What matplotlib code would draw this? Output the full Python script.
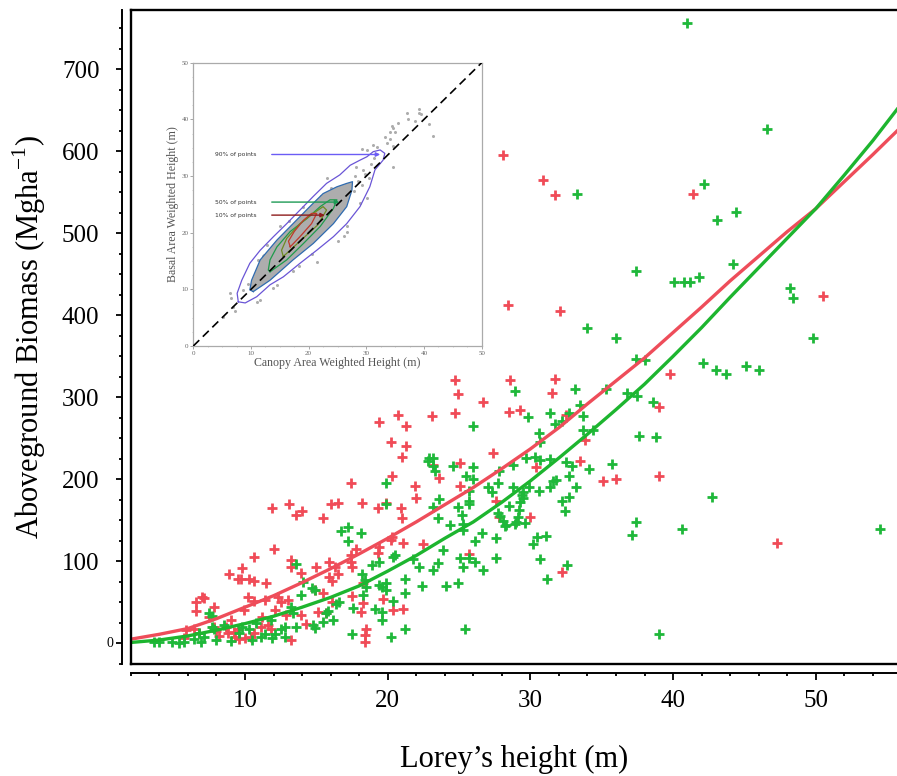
import matplotlib
matplotlib.use("Agg")
import matplotlib.pyplot as plt
from matplotlib.ticker import MultipleLocator, FixedLocator

plt.rcParams['font.family'] = ['Liberation Serif', 'DejaVu Serif']
plt.rcParams['mathtext.fontset'] = 'custom'
plt.rcParams['mathtext.rm'] = 'Liberation Serif'

# ---------------- data ----------------
red_x = [28.1, 30.9, 31.7, 41.4, 28.4, 32.1, 39.8, 39.0, 39.0, 47.3, 50.5, 24.7, 24.9, 24.7, 23.1,
         21.3, 21.3, 21.0, 26.7, 28.6, 31.7, 31.5, 28.5, 29.3, 32.5, 27.4, 25.1, 23.2, 23.6, 21.9,
         22.0, 25.1, 20.9, 21.0, 21.1, 22.5, 27.6, 27.8, 30.0, 30.4, 33.8, 33.5, 35.1, 36.0, 25.7,
         32.2, 21.1, 19.4, 20.7, 20.2, 20.3, 17.4, 11.9, 13.1, 13.6, 14.0, 15.5, 16.0, 16.5, 18.2,
         19.3, 19.9, 12.0, 10.6, 9.8, 8.9, 9.5, 9.7, 10.3, 10.6, 11.5, 13.2, 13.2, 13.9, 15.0,
         15.9, 16.3, 17.4, 17.4, 17.5, 17.8, 15.9, 16.1, 16.5, 15.5, 14.9, 18.3, 19.3, 19.4, 20.3,
         20.2, 19.7, 20.4, 18.3, 18.5, 18.4, 18.4, 18.1, 17.5, 16.1, 15.7, 15.1, 14.3, 13.9, 12.9,
         13.2, 12.5, 12.1, 12.3, 13.0, 11.4, 10.6, 10.2, 9.9, 11.2, 11.6, 10.4, 10.6, 9.0, 8.7,
         9.2, 9.5, 8.8, 9.3, 9.6, 10.0, 8.2, 8.0, 7.8, 7.5, 7.8, 7.1, 7.0, 6.6, 6.6,
         5.9, 6.4, 5.7, 6.8, 11.1, 11.8]
red_y = [595.5, 565, 547, 548, 412.5, 405.6, 328, 288, 204, 122.7, 424, 321, 304, 281, 277,
         265, 240, 227, 294, 321, 322, 305.6, 282, 285, 279, 231.7, 220, 217, 201.6, 192,
         177, 192, 164.6, 152.4, 122.7, 121, 173.5, 154, 154, 214.6, 248, 222.7, 197.6, 200, 109,
         87, 42, 269.5, 278, 246, 204, 195, 164.6, 170, 157, 161, 153, 170, 171, 171.5,
         164.6, 171.5, 114.6, 105, 92, 84, 79, 78, 78, 76, 74, 101.6, 92.7, 86, 93.4,
         99.5, 92.7, 107.7, 99.5, 92.7, 114.6, 80.5, 76, 84, 61.7, 65, 73, 110, 118, 130,
         126, 53.6, 40.6, 49.5, 18, 10, 2, 38.5, 57.7, 50.7, 36.6, 38.5, 23, 34.5, 34.5,
         4, 50.7, 40.6, 56.8, 52.8, 52.8, 52, 56.8, 40.6, 31.7, 22.3, 8, 12, 28.4, 20,
         14, 18, 12, 8, 5, 7, 9, 15, 20, 32.5, 44.6, 55, 57, 50.7, 39.8,
         16, 18, 6, 12, 20, 18]

green_x = [41.0, 46.6, 33.3, 42.2, 43.1, 44.4, 37.4, 40.1, 40.8, 41.2, 41.8, 44.2, 48.2, 48.4, 49.8,
           34.0, 36.0, 37.4, 38.0, 42.1, 43.0, 43.7, 45.1, 46.0, 36.8, 37.5, 38.6, 33.1, 28.9, 31.4,
           29.8, 32.7, 33.5, 33.7, 26.0, 31.7, 32.2, 30.6, 30.7, 33.7, 34.4, 37.6, 38.8, 22.9, 23.2,
           22.8, 24.6, 26.0, 25.5, 26.0, 23.3, 23.2, 28.8, 29.7, 30.3, 30.7, 31.4, 32.5, 32.9, 32.7,
           34.1, 35.7, 23.6, 23.2, 23.5, 25.2, 24.9, 25.7, 25.7, 25.7, 27.0, 27.3, 27.7, 27.8, 28.8,
           29.5, 29.9, 30.6, 31.4, 31.6, 31.8, 33.2, 32.7, 32.2, 32.4, 28.5, 29.3, 29.5, 29.4, 27.7,
           27.9, 28.1, 28.3, 28.2, 29.1, 29.0, 29.2, 29.6, 28.9, 25.3, 25.3, 24.4, 26.6, 27.6, 26.1,
           23.9, 21.8, 22.2, 23.2, 23.5, 25.1, 25.3, 25.7, 26.1, 26.7, 27.6, 30.2, 30.5, 31.1, 30.7,
           31.2, 32.6, 21.2, 21.2, 22.4, 24.1, 24.9, 21.2, 25.4, 39.0, 37.4, 37.1, 40.6, 42.7, 54.5,
           35.3, 17.2, 16.7, 18.1, 17.2, 19.9, 19.9, 13.6, 14.1, 14.7, 14.9, 13.9, 13.2, 13.4, 13.6,
           14.8, 14.9, 15.5, 15.7, 15.8, 16.6, 16.4, 16.2, 17.5, 18.2, 18.4, 18.5, 18.3, 17.6, 18.9,
           19.4, 19.4, 19.6, 19.9, 19.9, 19.1, 19.6, 19.6, 20.2, 20.4, 20.5, 20.4, 11.8, 11.4, 10.3,
           11.1, 9.6, 9.0, 7.8, 7.5, 7.7, 6.8, 6.4, 5.7, 7.1, 8.0, 12.5, 12.8, 12.1, 10.5,
           3.6, 4.0, 4.9, 5.4, 6.9, 7.7, 8.5, 9.8, 10.8, 11.9, 12.8]
green_y = [756, 627, 548, 560, 516, 526, 453.7, 440, 441, 441, 447, 462, 433, 421, 372,
           384.5, 372, 347, 345, 341.5, 333, 328, 338.5, 333, 305, 302, 294, 310, 308, 280.5,
           276, 280.5, 290, 277.6, 265, 267, 271, 257, 245, 260, 260, 253, 251, 226, 226,
           222, 216, 215, 204, 200, 210, 216, 218, 226, 227.5, 224, 225, 221, 216, 204,
           212, 219, 175.6, 166.6, 153, 156, 166.6, 186, 174, 170, 190, 184.5, 195, 210.5, 190,
           185, 190, 186, 190, 198, 199, 190, 179, 174, 161, 168, 172, 177, 181, 158.5,
           155.6, 149.5, 144, 143, 154, 148, 162.5, 147, 146, 146, 138, 144, 134, 128, 125,
           114, 103, 93.5, 90, 98, 103.6, 93.5, 103.6, 99.5, 90, 103.6, 121, 130, 131, 103,
           79, 95, 79, 61, 70, 70, 74, 18, 17, 11, 148, 132, 139, 179, 139,
           310.5, 142, 137, 135, 125, 196, 170, 96.7, 75, 67, 65, 59, 44.6, 36.6, 20,
           22.3, 18.3, 25.6, 36.6, 39.8, 50.7, 48, 29, 11, 85, 77, 69, 59, 42.7, 95.5,
           99.5, 71, 69, 73, 65, 41.5, 38.5, 29, 8, 52, 107.7, 105.6, 28.4, 11, 17,
           8, 12, 3, 17, 36.6, 33, 12, 5, 1, 8, 4, 18, 20, 11, 4,
           1, 1, 1, 0, 1, 20, 22, 20, 25, 6, 8]

# fitted curves
curve_x = [2, 4, 6, 8, 10, 12, 14, 16, 18, 20, 22, 24, 26, 28, 30, 32, 34, 36, 38, 40,
           42, 44, 46, 48, 50, 52, 54, 56]
red_curve_y = [5, 11, 18, 30, 44, 58, 74, 91, 109, 128, 148, 169, 190, 213, 237, 263, 292, 320,
               348, 379, 410, 442, 472, 502, 530, 563, 596, 630]
green_curve_y = [1, 4, 9, 16, 24, 33, 44, 56, 70, 88, 107, 128, 148, 172, 198, 226, 255, 285,
                 316, 350, 385, 422, 458, 494, 530, 571, 613, 658]

x_major = [10, 20, 30, 40, 50]
y_major = [0, 100, 200, 300, 400, 500, 600, 700]
y_labels = ['', '100', '200', '300', '400', '500', '600', '700']

# inset: contour outlines (x, y)
c90_x = [7.8, 9.0, 11.0, 13.3, 15.6, 18.5, 21.4, 24.3, 26.6, 28.9, 30.6, 31.5, 32.9, 33.2, 32.4,
         31.2, 30.1, 28.9, 27.2, 25.4, 23.1, 20.8, 18.5, 16.2, 13.9, 11.6, 9.8, 8.4, 7.6, 7.8]
c90_y = [7.8, 7.6, 8.7, 10.8, 12.2, 14.6, 16.9, 19.3, 21.6, 24.6, 28.1, 31.1, 32.8, 34.0, 34.6,
         34.3, 33.4, 32.8, 31.9, 30.2, 28.7, 26.4, 24.0, 21.6, 19.3, 16.9, 14.6, 11.6, 9.3, 7.8]
c70_x = [10.4, 13.3, 17.3, 20.8, 24.3, 26.6, 27.5, 27.6, 26.6, 24.9, 22.5, 20.2, 17.3, 14.5, 11.6, 10.1, 9.8, 10.4]
c70_y = [9.6, 11.6, 15.2, 18.1, 21.6, 24.6, 27.5, 29.0, 28.7, 28.1, 26.9, 24.6, 21.6, 18.7, 15.2, 11.6, 9.9, 9.6]
c50_x = [13.3, 16.2, 19.1, 22.0, 24.3, 24.9, 23.7, 22.0, 19.7, 16.8, 14.5, 13.3, 13.0, 13.3]
c50_y = [13.1, 15.2, 18.1, 21.1, 24.3, 25.8, 25.8, 24.6, 22.5, 20.2, 17.5, 15.2, 13.4, 13.1]
c30_x = [15.6, 18.5, 21.6, 23.1, 22.5, 20.8, 18.5, 16.2, 15.3, 15.6]
c30_y = [15.8, 18.5, 21.4, 24.0, 24.6, 23.4, 21.6, 19.0, 16.9, 15.8]
c10_x = [16.8, 18.5, 20.5, 21.4, 20.5, 19.1, 17.5, 16.5, 16.8]
c10_y = [17.5, 19.3, 21.6, 23.4, 23.4, 22.2, 20.2, 18.5, 17.5]
gray_x = [37.0, 39.2, 39.2, 39.5, 37.2, 38.4, 40.8, 41.5, 34.4, 35.5, 34.7, 35.0, 34.1, 33.2, 34.1,
          33.5, 34.7, 34.7, 31.2, 31.9, 29.2, 30.2, 23.1, 6.4, 6.6, 6.9, 7.2, 5.2, 11.0, 11.6,
          13.9, 14.5, 12.7, 26.6, 26.6, 28.9, 30.1, 16.2, 15.6, 12.1, 11.3, 12.7, 14.5, 29.5, 28.0,
          28.5, 29.8, 30.8, 27.9, 26.2, 25.1, 22.2, 20.6, 19.0, 17.2, 15.1, 13.6, 12.2, 10.6, 9.4,
          8.6, 28.2, 29.3, 30.5, 31.3, 21.5, 23.8, 24.8, 18.4, 16.6]
gray_y = [41.2, 41.8, 41.2, 40.9, 40.0, 39.7, 39.2, 37.1, 38.9, 39.4, 38.4, 37.8, 37.8, 36.8, 36.6,
          35.8, 35.3, 31.6, 35.5, 35.2, 34.7, 34.6, 29.6, 9.3, 8.4, 6.9, 6.1, 5.2, 7.8, 8.1,
          10.2, 10.8, 11.6, 21.1, 20.2, 25.2, 26.1, 20.2, 19.6, 15.8, 15.2, 17.8, 16.9, 31.0, 30.0,
          29.2, 30.4, 32.2, 27.4, 19.4, 18.6, 26.4, 16.2, 24.6, 13.3, 21.2, 12.6, 16.1, 10.6, 11.0,
          9.8, 31.6, 28.4, 29.6, 33.2, 14.9, 27.8, 22.9, 14.2, 22.0]
notes = ['90% of points', '50% of points', '10% of points']
note_y = [33.8, 25.4, 23.1]
note_tip_x = [32.4, 25.3, 22.8]
note_colors = ['#6B5CF5', '#1E9A55', '#8E1C1C']

RED = '#F04B57'
GREEN = '#1FB83A'

# ---------------- figure ----------------
W, H = 897, 776
fig = plt.figure(figsize=(W / 100, H / 100), dpi=100)
L, R, T, B = 130.8, 897, 10, 664
ax = fig.add_axes([L / W, (H - B) / H, (R - L) / W, (B - T) / H])
ax.set_xlim(2, 2 + (R - L) / 14.27)
ax.set_ylim((643.3 - B) / 0.82, (643.3 - T) / 0.82)

ax.plot(red_x, red_y, '+', color=RED, ms=7, mew=2.0, zorder=2)
ax.plot(green_x, green_y, '+', color=GREEN, ms=7, mew=2.0, zorder=2)
ax.plot(curve_x, red_curve_y, color='#EE4D5A', lw=2.4, zorder=3, solid_capstyle='round')
ax.plot(curve_x, green_curve_y, color='#1DB52F', lw=2.4, zorder=3, solid_capstyle='round')

# inner frame
for xs, ys in (([0, 0], [0, 1]), ([0, 1], [1, 1]), ([0, 1], [0, 0])):
    ax.plot(xs, ys, transform=ax.transAxes, color='black', lw=1.7, clip_on=False, zorder=5)
ax.spines['top'].set_visible(False)
ax.spines['right'].set_visible(False)
ax.spines['left'].set_position(('outward', 6.1))
ax.spines['bottom'].set_position(('outward', 6.5))
ax.spines['left'].set_linewidth(1.4)
ax.spines['bottom'].set_linewidth(1.4)

ax.xaxis.set_major_locator(FixedLocator(x_major))
ax.xaxis.set_minor_locator(MultipleLocator(2))
ax.yaxis.set_major_locator(FixedLocator(y_major))
ax.set_yticklabels(y_labels)
ax.yaxis.set_minor_locator(MultipleLocator(25))
ax.tick_params(axis='x', which='major', length=5, width=1.3, labelsize=18, pad=7)
ax.tick_params(axis='x', which='minor', length=2.5, width=1.3)
ax.tick_params(axis='y', which='major', length=4.5, width=1.3, labelsize=18, pad=12)
ax.tick_params(axis='y', which='minor', length=2.3, width=1.3)
ax.annotate('0', xy=(0, 0), xycoords=('axes fraction', 'data'), xytext=(-15, 0),
            textcoords='offset points', ha='center', va='center', fontsize=10)

ax.set_xlabel('Lorey\u2019s height (m)', fontsize=22)
ax.xaxis.set_label_coords(0.5, -0.123)
ax.set_ylabel('Aboveground Biomass (Mgha$^{\\mathregular{-1}}$)', fontsize=22)
ax.yaxis.set_label_coords(-0.108, 0.5)

# ---------------- inset ----------------
il, ir, it, ib = 193.3, 481.7, 62.7, 346
axin = fig.add_axes([il / W, (H - ib) / H, (ir - il) / W, (ib - it) / H], zorder=10)
axin.set_xlim(0, 50)
axin.set_ylim(0, 50)
axin.set_facecolor('white')
for s in axin.spines.values():
    s.set_color('#AAAAAA')
    s.set_linewidth(0.9)
axin.xaxis.set_major_locator(MultipleLocator(10))
axin.yaxis.set_major_locator(MultipleLocator(10))
axin.xaxis.set_minor_locator(MultipleLocator(2.5))
axin.yaxis.set_minor_locator(MultipleLocator(2.5))
axin.tick_params(which='major', length=2, width=0.6, color='#999999', labelsize=5,
                 labelcolor='#666666', pad=1.5)
axin.tick_params(which='minor', length=1, width=0.5, color='#BBBBBB')

axin.fill(c70_x, c70_y, color='#ADADAD', lw=0, zorder=1)
axin.plot(gray_x, gray_y, 'o', color='#ADADAD', ms=2.2, mew=0, zorder=1)
axin.plot(c90_x, c90_y, color='#6A55D6', lw=0.9, zorder=2)
axin.plot(c70_x, c70_y, color='#2F6BB0', lw=0.9, zorder=2)
axin.plot(c50_x, c50_y, color='#1E9B4B', lw=0.9, zorder=2)
axin.plot(c30_x, c30_y, color='#6E8B22', lw=0.9, zorder=2)
axin.plot(c10_x, c10_y, color='#C0392B', lw=0.9, zorder=2)
axin.plot([0, 50], [0, 50], color='black', lw=1.2, dashes=(5, 3), zorder=3)
for t, yy, tx, c in zip(notes, note_y, note_tip_x, note_colors):
    axin.text(3.8, yy, t, fontsize=4.3, family='DejaVu Sans', color='#333333', va='center', ha='left')
    axin.annotate('', xy=(tx, yy), xytext=(13.6, yy),
                  arrowprops=dict(arrowstyle='-|>', color=c, lw=1.0, mutation_scale=6,
                                  shrinkA=0, shrinkB=0), zorder=4)
axin.set_xlabel('Canopy Area Weighted Height (m)', fontsize=8.6, color='#555555', labelpad=1)
axin.set_ylabel('Basal Area Weighted Height (m)', fontsize=8.6, color='#555555', labelpad=2)

fig.savefig('out.png', dpi=100)
